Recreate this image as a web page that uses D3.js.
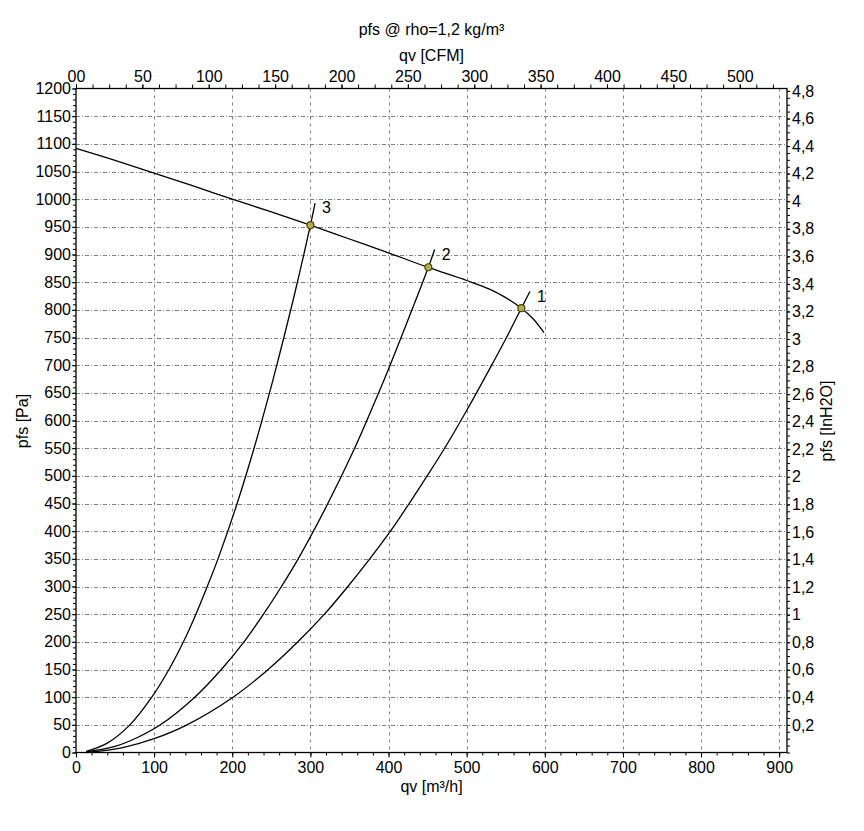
<!DOCTYPE html>
<html>
<head>
<meta charset="utf-8">
<script src="https://cdn.jsdelivr.net/npm/d3@7"></script>
<style>
body { margin: 0; background: #fff; }
svg { font-family: "Liberation Sans", Arial, sans-serif; }
</style>
</head>
<body>
<svg width="864" height="831"></svg>
<script>
// fan curve pfs [Pa] vs qv [m3/h]
const qvFan  = [0, 50, 100, 150, 200, 250, 300, 350, 400, 450, 500, 530, 550, 570, 585, 599];
const pfsFan = [1092, 1070, 1047, 1024, 1000, 977, 953, 928, 903, 877, 853, 837, 822, 803, 784, 759];

// system curves 1, 2, 3
const qv1  = [13, 60, 100, 142, 201, 246, 284, 318, 348, 375, 402, 426, 449, 471, 500, 532, 551, 570, 581];
const pfs1 = [0, 9, 25, 50, 100, 150, 200, 250, 300, 348, 399, 449, 499, 548, 618, 700, 750, 803, 833];
const qv2  = [13, 50, 80, 108, 152, 186, 215, 240, 263, 284, 322, 356, 387, 402, 430, 451, 459];
const pfs2 = [1, 11, 28, 50, 100, 150, 200, 250, 300, 349, 449, 548, 649, 700, 800, 877, 909];
const qv3  = [13, 40, 69, 97, 119, 137.5, 153.5, 168, 181.5, 206, 227.5, 247.5, 257, 280, 300, 306];
const pfs3 = [2, 17, 50, 100, 150, 200, 250, 300, 349, 449, 548, 649, 700, 830, 953, 993];

// operating points
const opLabels = ['1', '2', '3'];
const opQv  = [570, 451, 300];
const opPfs = [803, 877, 953];

// tick labels
const qvTicks  = [0, 100, 200, 300, 400, 500, 600, 700, 800, 900];
const cfmTicks = [0, 50, 100, 150, 200, 250, 300, 350, 400, 450, 500];
const pfsTicks = [0, 50, 100, 150, 200, 250, 300, 350, 400, 450, 500, 550, 600, 650, 700, 750,
                  800, 850, 900, 950, 1000, 1050, 1100, 1150, 1200];
const inTicks  = [0.2, 0.4, 0.6, 0.8, 1, 1.2, 1.4, 1.6, 1.8, 2, 2.2, 2.4, 2.6, 2.8, 3, 3.2,
                  3.4, 3.6, 3.8, 4, 4.2, 4.4, 4.6, 4.8];

const CFM = 1.699, INH2O = 249.089;
const pLeft = 76, pRight = 787, pTop = 88.5, pBottom = 752.5;

const x = d3.scaleLinear().domain([0, 910]).range([pLeft, pRight]);
const xc = d3.scaleLinear().domain([0, 910 / CFM]).range([pLeft, pRight]);
const y = d3.scaleLinear().domain([0, 1200]).range([pBottom, pTop]);
const yi = d3.scaleLinear().domain([0, 1200 / INH2O]).range([pBottom, pTop]);

const comma = d3.formatLocale({decimal: ',', thousands: '.', grouping: [3], currency: ['', '']});
const fmtIn = comma.format('.1~f');

const svg = d3.select('svg');

// grid
const grid = svg.append('g').attr('stroke', '#808080').attr('stroke-width', 1);
pfsTicks.filter(v => v > 0 && v < 1200).forEach(v => {
    grid.append('line')
        .attr('x1', pLeft).attr('x2', pRight)
        .attr('y1', Math.round(y(v)) + 0.5).attr('y2', Math.round(y(v)) + 0.5)
        .attr('stroke-dasharray', '4,2,1,2');
});
qvTicks.filter(v => v > 0).forEach(v => {
    grid.append('line')
        .attr('x1', Math.round(x(v)) + 0.5).attr('x2', Math.round(x(v)) + 0.5)
        .attr('y1', pTop).attr('y2', pBottom)
        .attr('stroke-dasharray', '3,4');
});

// axes
function styleAxis(g) {
    g.select('.domain').remove();
    g.selectAll('text').attr('font-size', 16).attr('fill', '#000').attr('font-family', null);
    g.selectAll('line').attr('stroke', '#000');
}

svg.append('g').attr('transform', `translate(0,${pBottom})`)
    .call(d3.axisBottom(x).tickValues(d3.range(0, 911, 20)).tickSize(3).tickFormat(''))
    .call(styleAxis);
svg.append('g').attr('transform', `translate(0,${pBottom})`)
    .call(d3.axisBottom(x).tickValues(qvTicks).tickSize(5).tickPadding(4).tickFormat(d3.format('d')))
    .call(styleAxis);

svg.append('g').attr('transform', `translate(0,${pTop})`)
    .call(d3.axisTop(xc).tickValues(d3.range(0, 536, 12.5)).tickSize(4).tickFormat(''))
    .call(styleAxis);
svg.append('g').attr('transform', `translate(0,${pTop})`)
    .call(d3.axisTop(xc).tickValues(cfmTicks).tickSize(4).tickPadding(3)
        .tickFormat(d => d === 0 ? '00' : d))
    .call(styleAxis);

svg.append('g').attr('transform', `translate(${pLeft},0)`)
    .call(d3.axisLeft(y).tickValues(d3.range(0, 1201, 10)).tickSize(3).tickFormat(''))
    .call(styleAxis);
svg.append('g').attr('transform', `translate(${pLeft},0)`)
    .call(d3.axisLeft(y).tickValues(pfsTicks).tickSize(4).tickPadding(1).tickFormat(d3.format('d')))
    .call(styleAxis);

svg.append('g').attr('transform', `translate(${pRight},0)`)
    .call(d3.axisRight(yi).tickValues(d3.range(0, 4.81, 0.05)).tickSize(3).tickFormat(''))
    .call(styleAxis);
svg.append('g').attr('transform', `translate(${pRight},0)`)
    .call(d3.axisRight(yi).tickValues(inTicks).tickSize(3).tickPadding(2).tickFormat(fmtIn))
    .call(styleAxis);

// frame
svg.append('rect')
    .attr('x', pLeft).attr('y', pTop)
    .attr('width', pRight - pLeft).attr('height', pBottom - pTop)
    .attr('fill', 'none').attr('stroke', '#000').attr('stroke-width', 1.3);

// curves
const line = d3.line().x(d => x(d[0])).y(d => y(d[1])).curve(d3.curveCatmullRom.alpha(0.5));
const curves = [
    d3.zip(qvFan, pfsFan),
    d3.zip(qv1, pfs1),
    d3.zip(qv2, pfs2),
    d3.zip(qv3, pfs3)
];
curves.forEach(c => {
    svg.append('path')
        .attr('d', line(c))
        .attr('fill', 'none')
        .attr('stroke', '#000')
        .attr('stroke-width', 1.3);
});

// curve numbers at system curve ends
[d3.zip(qv1, pfs1), d3.zip(qv2, pfs2), d3.zip(qv3, pfs3)].forEach((c, i) => {
    const end = c[c.length - 1];
    svg.append('text')
        .attr('x', x(end[0]) + 7)
        .attr('y', y(end[1]) + 10)
        .attr('font-size', 16)
        .text(opLabels[i]);
});

// operating points
opQv.forEach((q, i) => {
    svg.append('circle')
        .attr('cx', x(q)).attr('cy', y(opPfs[i]))
        .attr('r', 3.5)
        .attr('fill', '#b4ad4a')
        .attr('stroke', '#4a4612')
        .attr('stroke-width', 1.2);
});

// titles
svg.append('text').attr('x', 431.5).attr('y', 35).attr('text-anchor', 'middle')
    .attr('font-size', 16).text('pfs @ rho=1,2 kg/m³');
svg.append('text').attr('x', 431.5).attr('y', 61).attr('text-anchor', 'middle')
    .attr('font-size', 16).text('qv [CFM]');
svg.append('text').attr('x', 431.5).attr('y', 792).attr('text-anchor', 'middle')
    .attr('font-size', 16).text('qv [m³/h]');
svg.append('text').attr('transform', 'translate(28,421) rotate(-90)').attr('text-anchor', 'middle')
    .attr('font-size', 16).text('pfs [Pa]');
svg.append('text').attr('transform', 'translate(832,421) rotate(-90)').attr('text-anchor', 'middle')
    .attr('font-size', 16).text('pfs [InH2O]');
</script>
</body>
</html>
